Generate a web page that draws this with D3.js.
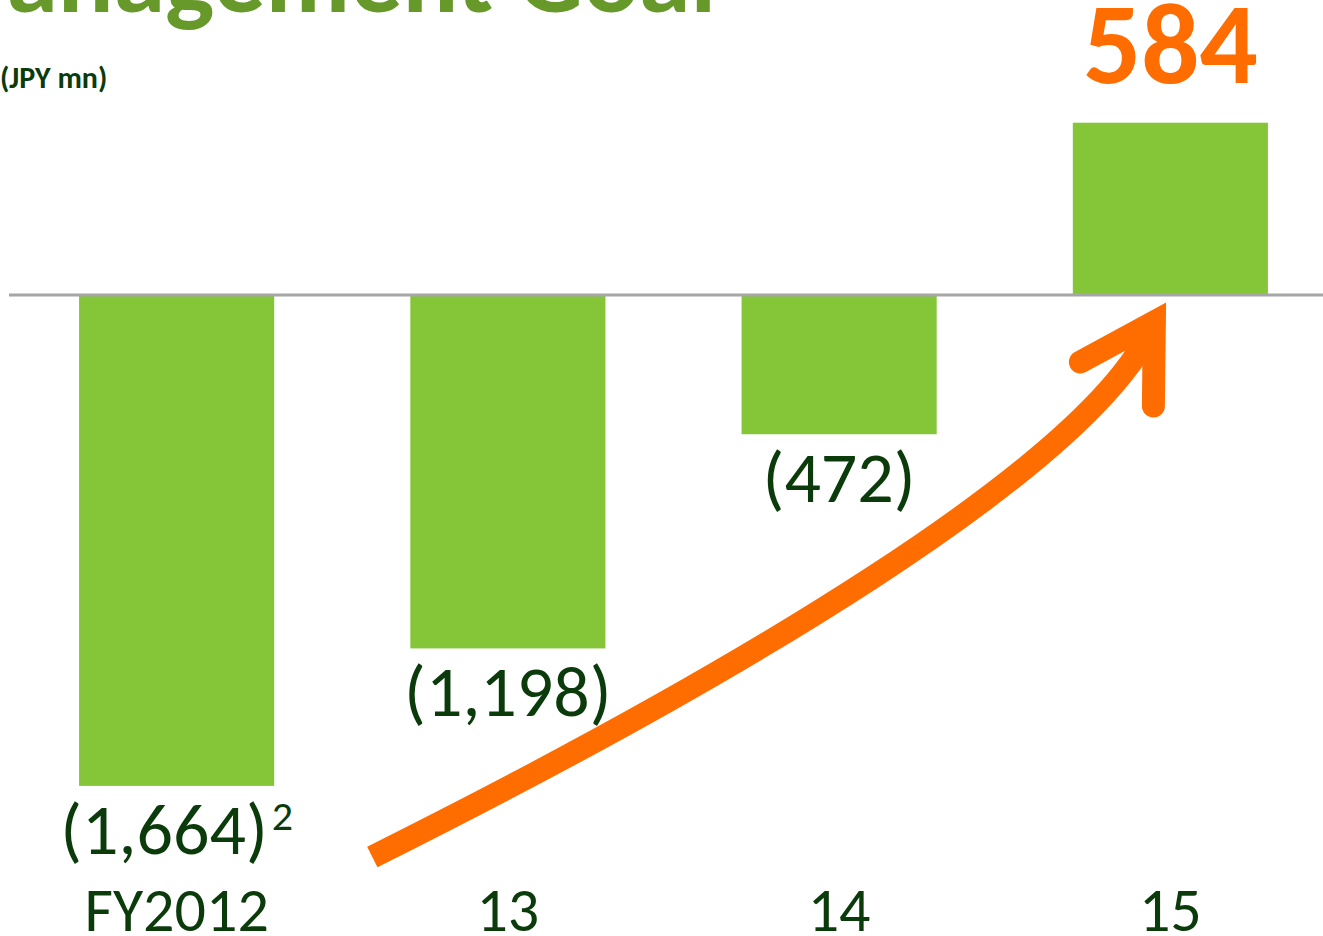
<!DOCTYPE html>
<html>
<head>
<meta charset="utf-8">
<script src="https://cdn.jsdelivr.net/npm/d3@7"></script>
<style>
  html, body { margin: 0; padding: 0; background: #ffffff; }
  svg { display: block; }
  text { font-family: Carlito, Lato, "Open Sans", sans-serif; }
</style>
</head>
<body>
<svg id="chart" width="1323" height="936"></svg>
<script>
// Operating income by fiscal year (JPY mn)
const categories = ["FY2012", "13", "14", "15"];
const values = [-1664, -1198, -472, 584];
const valueLabels = ["(1,664)", "(1,198)", "(472)", "584"];
const labelNotes = ["2", "", "", ""];
const titleText = "Management Goal";
const unitText = "(JPY mn)";

const W = 1323, H = 936;
const svg = d3.select("#chart");

const GREEN_BAR = "#84c637";
const DARK_GREEN = "#0b3b0b";
const ORANGE = "#ff6c00";

// scales
const x = d3.scaleBand()
  .domain(categories)
  .range([11, 1336])
  .paddingInner(0.411)
  .paddingOuter(0.2055);

const zeroY = 295;
const k = 0.295;
const y = d3.scaleLinear()
  .domain([d3.min(values), d3.max(values)])
  .range([zeroY - d3.min(values) * k, zeroY - d3.max(values) * k]);

// title (runs off the left edge of the slide)
svg.append("text")
  .attr("x", 716)
  .attr("y", 12)
  .attr("text-anchor", "end")
  .attr("font-size", 104)
  .attr("font-weight", 700)
  .attr("fill", "#67992a")
  .text(titleText);

svg.append("text")
  .attr("x", 0)
  .attr("y", 88)
  .attr("font-size", 30)
  .attr("font-weight", 700)
  .attr("fill", DARK_GREEN)
  .text(unitText);

// bars
const data = categories.map((c, i) => ({ c, v: values[i], label: valueLabels[i], note: labelNotes[i] }));

svg.append("g").selectAll("rect")
  .data(data)
  .join("rect")
  .attr("x", d => x(d.c))
  .attr("width", x.bandwidth())
  .attr("y", d => Math.min(y(d.v), y(0)))
  .attr("height", d => Math.abs(y(d.v) - y(0)))
  .attr("fill", GREEN_BAR);

// zero line
svg.append("line")
  .attr("x1", 9).attr("x2", W)
  .attr("y1", y(0)).attr("y2", y(0))
  .attr("stroke", "#a6a6a6")
  .attr("stroke-width", 3);

// value labels
const vl = svg.append("g").selectAll("text")
  .data(data)
  .join("text")
  .attr("x", d => x(d.c) + x.bandwidth() / 2)
  .attr("y", d => d.v < 0 ? y(d.v) + 68 : y(d.v) - 40)
  .attr("text-anchor", "middle")
  .attr("font-size", d => d.v < 0 ? 72 : 115)
  .attr("font-weight", d => d.v < 0 ? 400 : 700)
  .attr("fill", d => d.v < 0 ? DARK_GREEN : ORANGE);

vl.append("tspan").text(d => d.label);
vl.filter(d => d.note)
  .append("tspan")
  .attr("font-size", 42)
  .attr("dy", -24)
  .attr("dx", 4)
  .text(d => d.note);

// category labels
svg.append("g").selectAll("text")
  .data(categories)
  .join("text")
  .attr("x", c => x(c) + x.bandwidth() / 2)
  .attr("y", 931)
  .attr("text-anchor", "middle")
  .attr("font-size", 62)
  .attr("fill", DARK_GREEN)
  .text(c => c);

// growth arrow from the FY2012 result up to the FY2015 goal
const last = categories[categories.length - 1];
const tip = [x(last) + x.bandwidth() / 2 - 16, y(0) + 27];
const start = [x(categories[1]) - 38, 857];

const shaft = d3.path();
shaft.moveTo(start[0], start[1]);
shaft.bezierCurveTo(start[0] + 350, start[1] - 175, tip[0] - 59, tip[1] + 143, tip[0], tip[1]);

svg.append("path")
  .attr("d", shaft.toString())
  .attr("fill", "none")
  .attr("stroke", ORANGE)
  .attr("stroke-width", 23)
  .attr("stroke-linecap", "butt");

const head = d3.path();
head.moveTo(tip[0] - 74, tip[1] + 40);
head.lineTo(tip[0], tip[1]);
head.lineTo(tip[0] - 1, tip[1] + 84);

svg.append("path")
  .attr("d", head.toString())
  .attr("fill", "none")
  .attr("stroke", ORANGE)
  .attr("stroke-width", 23)
  .attr("stroke-linecap", "round")
  .attr("stroke-linejoin", "miter")
  .attr("stroke-miterlimit", 10);
</script>
</body>
</html>
